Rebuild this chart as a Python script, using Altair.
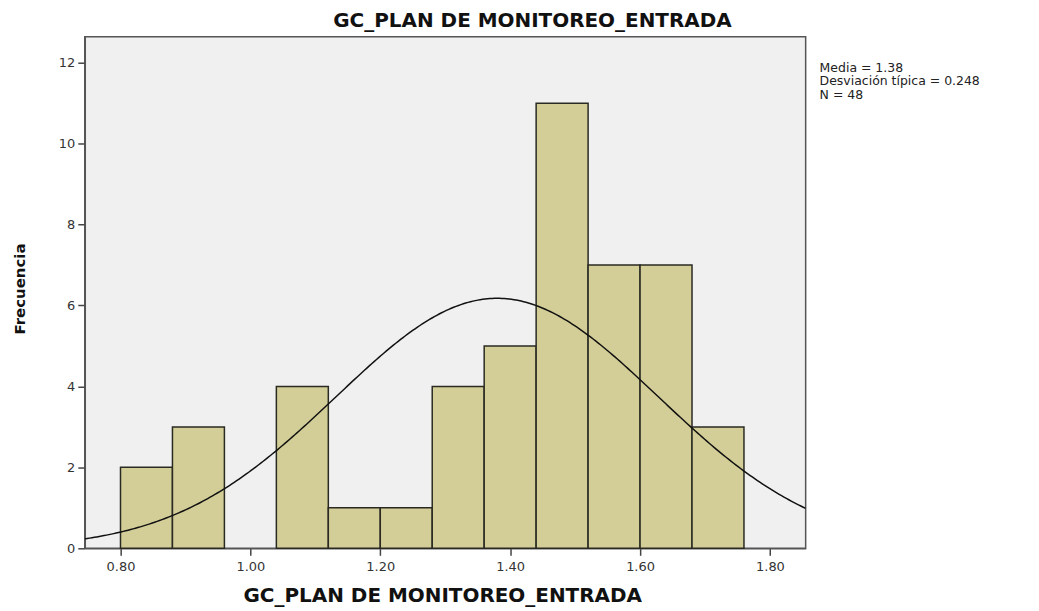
import altair as alt
import pandas as pd
import numpy as np

# Histogram bins (start of each bin) and frequencies
bin_start = [0.80, 0.88, 0.96, 1.04, 1.12, 1.20, 1.28, 1.36, 1.44, 1.52, 1.60, 1.68]
counts = [2, 3, 0, 4, 1, 1, 4, 5, 11, 7, 7, 3]
bin_width = 0.08

# Summary statistics shown in the chart
mean = 1.38
sd = 0.248
n = 48

x_ticks = [0.80, 1.00, 1.20, 1.40, 1.60, 1.80]
y_ticks = [0, 2, 4, 6, 8, 10, 12]
x_dom = [0.745, 1.855]
y_dom = [0, 12.64]

bars_df = pd.DataFrame({
    "x0": bin_start,
    "x1": [b + bin_width for b in bin_start],
    "count": counts,
})
bars_df = bars_df[bars_df["count"] > 0]

# Fitted normal curve (scaled to the frequency axis)
xs = np.linspace(x_dom[0], x_dom[1], 300)
ys = n * bin_width / (sd * np.sqrt(2 * np.pi)) * np.exp(-0.5 * ((xs - mean) / sd) ** 2)
curve_df = pd.DataFrame({"x": xs, "y": ys})

FONT = "DejaVu Sans"

xscale = alt.Scale(domain=x_dom, nice=False, zero=False)
yscale = alt.Scale(domain=y_dom, nice=False)

xaxis = alt.Axis(values=x_ticks, format=".2f", title=None, grid=False,
                 labelFontSize=13, labelColor="#333333", labelFont=FONT,
                 tickColor="#444444", tickSize=7, tickWidth=1.5,
                 domainColor="#555555", domainWidth=1.5, labelPadding=5)
yaxis = alt.Axis(values=y_ticks, title=None, grid=False,
                 labelFontSize=13, labelColor="#333333", labelFont=FONT,
                 tickColor="#444444", tickSize=7, tickWidth=1.5,
                 domainColor="#555555", domainWidth=1.5, labelPadding=3)

bars = alt.Chart(bars_df).mark_rect(
    fill="#D3CE98", stroke="#2a2a22", strokeWidth=1.5
).encode(
    x=alt.X("x0:Q", scale=xscale, axis=xaxis),
    x2="x1:Q",
    y=alt.Y("count:Q", scale=yscale, axis=yaxis),
    y2=alt.datum(0),
)

curve = alt.Chart(curve_df).mark_line(color="#111111", strokeWidth=1.5, clip=True).encode(
    x=alt.X("x:Q", scale=xscale),
    y=alt.Y("y:Q", scale=yscale),
)

title = alt.Chart(pd.DataFrame({"t": ["GC_PLAN DE MONITOREO_ENTRADA"]})).mark_text(
    font=FONT, fontSize=20, fontWeight="bold", color="#111111", align="center", baseline="middle"
).encode(text="t:N", x=alt.value(449), y=alt.value(-16))

xtitle = alt.Chart(pd.DataFrame({"t": ["GC_PLAN DE MONITOREO_ENTRADA"]})).mark_text(
    font=FONT, fontSize=20, fontWeight="bold", color="#111111", align="center", baseline="middle"
).encode(text="t:N", x=alt.value(359), y=alt.value(561))

ytitle = alt.Chart(pd.DataFrame({"t": ["Frecuencia"]})).mark_text(
    font=FONT, fontSize=15, fontWeight="bold", color="#111111",
    align="center", baseline="middle", angle=270
).encode(text="t:N", x=alt.value(-65), y=alt.value(253))

stats_lines = ["Media = 1.38", "Desviación típica = 0.248", "N = 48"]
stats = alt.Chart(pd.DataFrame({"t": [stats_lines]})).mark_text(
    font=FONT, fontSize=12.5, color="#222222", align="left", baseline="top", lineHeight=13.5
).encode(text="t:N", x=alt.value(737), y=alt.value(25))

chart = alt.layer(bars, curve, title, xtitle, ytitle, stats).properties(
    width=723, height=513,
    autosize=alt.AutoSizeParams(type="none"),
    padding={"left": 77, "top": 28, "right": 226, "bottom": 60},
).configure_view(
    fill="#F0F0F0", stroke="#555555", strokeWidth=1.5
)

chart.save("out.html", embed_options={"renderer": "svg", "actions": False})
